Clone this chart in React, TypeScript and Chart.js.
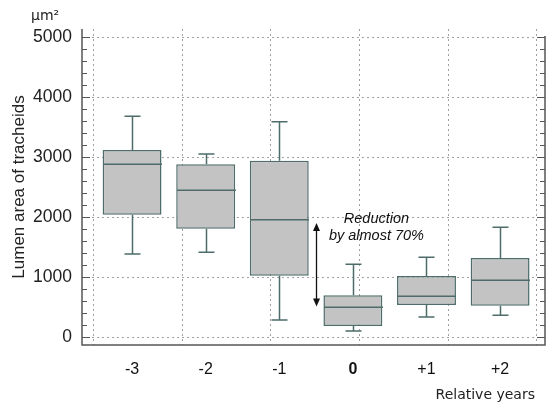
import React, { useEffect, useRef } from 'react';
import { Chart, registerables } from 'chart.js';
Chart.register(...registerables);

const categories = ['-3', '-2', '-1', '0', '+1', '+2'];
const positions = [-3, -2, -1, 0, 1, 2];
const whiskerLow = [1383, 1412, 283, 100, 333, 362];
const q1 = [2038, 1805, 1022, 183, 533, 522];
const medians = [2878, 2445, 1955, 495, 678, 945];
const q3 = [3117, 2878, 2938, 695, 1017, 1317];
const whiskerHigh = [3678, 3050, 3588, 1212, 1328, 1828];
const yTicks = [0, 1000, 2000, 3000, 4000, 5000];
const gridSlots = [0, 1, 2, 3, 4, 5];
const annotationLines = ['Reduction', 'by almost 70%'];
const annotationY = [1900, 1617];
const annotationX = 0.32;
const arrowX = -0.5;
const arrowTop = 1900;
const arrowBottom = 510;

const BOX_FILL = '#c3c3c3';
const BOX_LINE = '#4e6d6a';
const FRAME = '#555555';
const SANS = "'Liberation Sans', Arial, sans-serif";
const DEJAVU = "'DejaVu Sans', sans-serif";

Chart.defaults.font.family = SANS;
Chart.defaults.font.size = 17;

const decor = {
  id: 'decor',
  beforeDatasetsDraw(chart: any) {
    const { ctx, chartArea: a, scales } = chart;
    const y = scales.y;
    const xg = scales.xg;
    ctx.save();
    ctx.strokeStyle = '#a0a0a0';
    ctx.lineWidth = 1;
    ctx.setLineDash([2, 3]);
    for (const v of yTicks) {
      const py = Math.round(y.getPixelForValue(v)) + 0.5;
      ctx.beginPath();
      ctx.moveTo(a.left, py);
      ctx.lineTo(a.right, py);
      ctx.stroke();
    }
    for (const k of gridSlots) {
      const px = Math.round(xg.getPixelForValue(k)) + 0.5;
      ctx.beginPath();
      ctx.moveTo(px, a.top);
      ctx.lineTo(px, a.bottom);
      ctx.stroke();
    }
    ctx.restore();
  },
  afterDatasetsDraw(chart: any) {
    const { ctx, chartArea: a, scales } = chart;
    const x = scales.x;
    const y = scales.y;
    const meta = chart.getDatasetMeta(0);
    ctx.save();
    ctx.strokeStyle = BOX_LINE;
    ctx.lineWidth = 1.5;
    positions.forEach((p, i) => {
      const cx = Math.round(x.getPixelForValue(p)) + 0.5;
      const half = meta.data[i].width / 2;
      const yHi = y.getPixelForValue(whiskerHigh[i]);
      const yQ3 = y.getPixelForValue(q3[i]);
      const yQ1 = y.getPixelForValue(q1[i]);
      const yLo = y.getPixelForValue(whiskerLow[i]);
      const yMed = y.getPixelForValue(medians[i]);
      ctx.beginPath();
      ctx.moveTo(cx, yQ3);
      ctx.lineTo(cx, yHi);
      ctx.moveTo(cx - 8, yHi);
      ctx.lineTo(cx + 8, yHi);
      ctx.moveTo(cx, yQ1);
      ctx.lineTo(cx, yLo);
      ctx.moveTo(cx - 8, yLo);
      ctx.lineTo(cx + 8, yLo);
      ctx.moveTo(cx - half, yMed);
      ctx.lineTo(cx + half, yMed);
      ctx.stroke();
    });

    // frame: left, bottom, right (no top line)
    ctx.strokeStyle = FRAME;
    ctx.lineWidth = 1.5;
    ctx.beginPath();
    ctx.moveTo(a.left, a.top);
    ctx.lineTo(a.left, a.bottom);
    ctx.lineTo(a.right, a.bottom);
    ctx.lineTo(a.right, y.getPixelForValue(5000) - 1);
    ctx.stroke();

    // inward ticks
    ctx.lineWidth = 1;
    for (let v = 0; v <= y.max; v += 200) {
      const py = Math.round(y.getPixelForValue(v)) + 0.5;
      const len = v % 1000 === 0 ? 8 : 5;
      ctx.beginPath();
      ctx.moveTo(a.left, py);
      ctx.lineTo(a.left + len, py);
      ctx.moveTo(a.right, py);
      ctx.lineTo(a.right - len, py);
      ctx.stroke();
    }

    // arrow
    const ax = Math.round(x.getPixelForValue(arrowX)) + 0.5;
    const at = y.getPixelForValue(arrowTop);
    const ab = y.getPixelForValue(arrowBottom);
    ctx.strokeStyle = '#111';
    ctx.fillStyle = '#111';
    ctx.lineWidth = 1.3;
    ctx.beginPath();
    ctx.moveTo(ax, at + 6);
    ctx.lineTo(ax, ab - 6);
    ctx.stroke();
    ctx.beginPath();
    ctx.moveTo(ax, at);
    ctx.lineTo(ax - 3.5, at + 8);
    ctx.lineTo(ax + 3.5, at + 8);
    ctx.closePath();
    ctx.fill();
    ctx.beginPath();
    ctx.moveTo(ax, ab);
    ctx.lineTo(ax - 3.5, ab - 8);
    ctx.lineTo(ax + 3.5, ab - 8);
    ctx.closePath();
    ctx.fill();

    // annotation
    ctx.font = `italic 14.5px ${SANS}`;
    ctx.textAlign = 'center';
    ctx.textBaseline = 'alphabetic';
    const tx = x.getPixelForValue(annotationX);
    annotationLines.forEach((t, i) => {
      ctx.fillText(t, tx, y.getPixelForValue(annotationY[i]));
    });

    // unit and x title
    ctx.fillStyle = '#222';
    ctx.font = `14px ${DEJAVU}`;
    ctx.textAlign = 'left';
    ctx.fillText('µm²', 31, 20);
    ctx.textAlign = 'right';
    ctx.fillText('Relative years', a.right - 10, 399);
    ctx.restore();
  },
};

export default function App() {
  const ref = useRef<HTMLCanvasElement | null>(null);
  useEffect(() => {
    if (!ref.current) return;
    const chart = new Chart(ref.current, {
      type: 'bar',
      data: {
        datasets: [
          {
            data: positions.map((p, i) => ({ x: p, y: [q1[i], q3[i]] })) as any,
            backgroundColor: BOX_FILL,
            borderColor: BOX_LINE,
            borderWidth: 1.5,
            borderSkipped: false,
            barPercentage: 1,
            categoryPercentage: 0.8,
            xAxisID: 'x',
            yAxisID: 'y',
          },
        ],
      },
      options: {
        responsive: false,
        animation: false,
        font: { family: SANS, size: 17 },
        layout: { padding: { top: 29, right: 7, left: 0, bottom: 0 } },
        plugins: { legend: { display: false }, tooltip: { enabled: false } },
        scales: {
          x: {
            type: 'linear',
            offset: false,
            min: -3.68,
            max: 2.61,
            afterBuildTicks: (s: any) => {
              s.ticks = positions.map((v) => ({ value: v }));
            },
            afterFit: (s: any) => {
              s.height = 61;
            },
            grid: { display: false, drawTicks: false, offset: false },
            border: { display: false },
            ticks: {
              autoSkip: false,
              maxRotation: 0,
              padding: 15,
              color: '#111',
              callback: (_v: any, i: number) => categories[i],
              font: (c: any) => ({
                family: SANS,
                size: 16,
                weight: c.tick && c.tick.value === 0 ? 'bold' : 'normal',
              }),
            },
          },
          xg: {
            type: 'linear',
            display: false,
            offset: false,
            grid: { offset: false },
            min: -0.124,
            max: 5.1,
          },
          y: {
            type: 'linear',
            min: -133,
            max: 5133,
            afterBuildTicks: (s: any) => {
              s.ticks = yTicks.map((v) => ({ value: v }));
            },
            afterFit: (s: any) => {
              s.width = 82;
            },
            grid: { display: false, drawTicks: false },
            border: { display: false },
            ticks: {
              padding: 10,
              color: '#222',
              font: () => ({ family: SANS, size: 17.5 }),
              callback: (v: any) => String(v),
            },
            title: {
              display: true,
              text: 'Lumen area of tracheids',
              color: '#222',
              font: { family: SANS, size: 17 },
              padding: { top: 9, bottom: 0 },
            },
          },
        },
      },
      plugins: [decor],
    });
    return () => chart.destroy();
  }, []);
  return (
    <div style={{ position: 'absolute', left: 0, top: 0, width: 552, height: 406, background: '#fff' }}>
      <canvas ref={ref} width={552} height={406} style={{ display: 'block' }} />
    </div>
  );
}
